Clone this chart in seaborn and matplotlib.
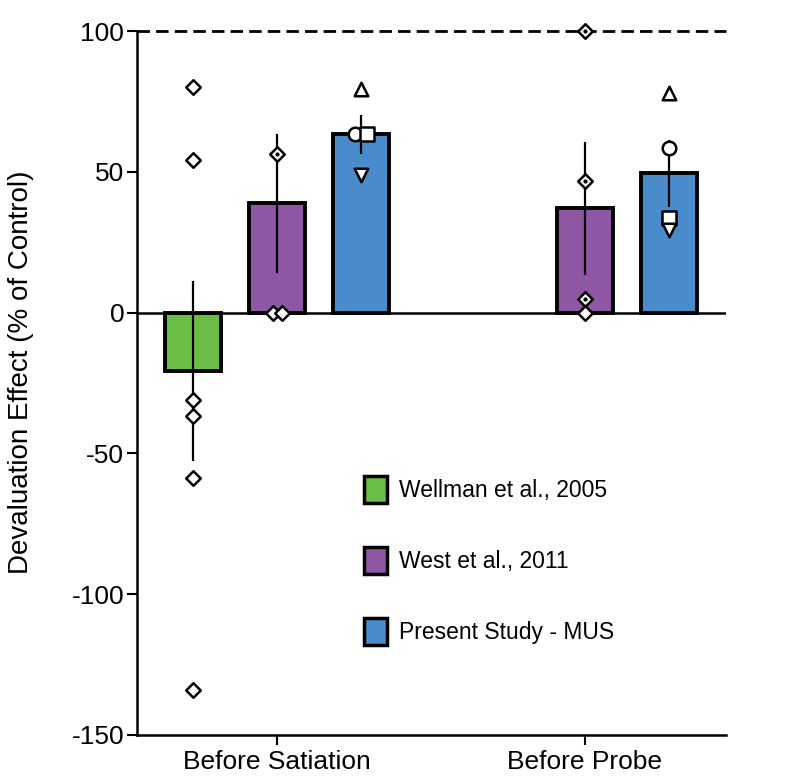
import pandas as pd
import matplotlib.pyplot as plt
import matplotlib.patches as mpatches
import numpy as np
import seaborn as sns

# bar means and SEM
conditions = ['Before Satiation', 'Before Probe']
studies = ['Wellman et al., 2005', 'West et al., 2011', 'Present Study - MUS']
colors = ['#6abd45', '#8e56a3', '#4a8ccb']

bar_cond = ['Before Satiation', 'Before Satiation', 'Before Satiation', 'Before Probe', 'Before Probe']
bar_study = ['Wellman et al., 2005', 'West et al., 2011', 'Present Study - MUS',
             'West et al., 2011', 'Present Study - MUS']
bar_mean = [-20.6, 38.8, 63.3, 37.0, 49.5]
bar_sem = [32.0, 24.7, 6.9, 23.5, 11.8]

# individual points
pt_cond = ['Before Satiation'] * 6 + ['Before Satiation'] * 3 + ['Before Probe'] * 4 \
    + ['Before Satiation'] * 4 + ['Before Probe'] * 4
pt_study = ['Wellman et al., 2005'] * 6 + ['West et al., 2011'] * 7 + ['Present Study - MUS'] * 8
pt_val = [80.0, 54.4, -31.0, -36.6, -58.7, -134.0,
          56.2, 0.0, 0.0,
          100.0, 46.6, 5.0, 0.0,
          79.5, 63.5, 63.5, 49.0,
          78.0, 58.4, 33.8, 29.5]
pt_marker = ['D'] * 13 + ['^', 'o', 's', 'v'] * 2
pt_dot = [False] * 6 + [True, False, False] + [True, True, True, False] + [False] * 8
pt_jitter = [0] * 7 + [-0.015, 0.015] + [0] * 5 + [-0.02, 0.02, 0] + [0] * 4

bars = pd.DataFrame({'Condition': bar_cond, 'Study': bar_study, 'Effect': bar_mean, 'SEM': bar_sem})

sns.set_style('ticks')
plt.rcParams['font.family'] = ['Liberation Sans', 'DejaVu Sans']
plt.rcParams['axes.unicode_minus'] = False
plt.rcParams['text.color'] = 'black'
plt.rcParams['axes.labelcolor'] = 'black'
plt.rcParams['xtick.color'] = 'black'
plt.rcParams['ytick.color'] = 'black'

fig = plt.figure(figsize=(7.91, 7.78), dpi=100)
ax = fig.add_axes([0.173, 0.0553, 0.745, 0.9047])

sns.barplot(data=bars, x='Condition', y='Effect', hue='Study', order=conditions,
            hue_order=studies, palette=colors, saturation=1, width=0.82, gap=0.33,
            errorbar=None, edgecolor='black', linewidth=2.8, ax=ax, legend=False, zorder=2)

# bar centres, taken from the drawn patches
centres = {}
for study, cont in zip(studies, ax.containers):
    for p in cont.patches:
        cx = p.get_x() + p.get_width() / 2
        cond = conditions[int(round(cx))]
        centres[(cond, study)] = cx

for _, r in bars.iterrows():
    cx = centres[(r['Condition'], r['Study'])]
    ax.errorbar(cx, r['Effect'], yerr=r['SEM'], fmt='none', ecolor='black',
                elinewidth=1.6, capsize=0, zorder=3)

for c, s, v, m, d, j in zip(pt_cond, pt_study, pt_val, pt_marker, pt_dot, pt_jitter):
    cx = centres[(c, s)] + j
    size = 55 if m == 'D' else 95
    ax.scatter(cx, v, marker=m, s=size, facecolor='white', edgecolor='black',
               linewidth=1.8, zorder=4, clip_on=False)
    if d:
        ax.scatter(cx, v, marker='o', s=4, color='black', zorder=5, clip_on=False)

ax.axhline(0, color='black', lw=1.8, zorder=2.5)
ax.axhline(100, color='black', lw=2.0, ls=(0, (4.5, 2.2)), zorder=1, clip_on=False)

ax.set_ylim(-150, 100)
ax.set_xlim(-0.456, 1.459)
ax.set_yticks([-150, -100, -50, 0, 50, 100])
ax.set_xlabel('')
ax.set_ylabel('Devaluation Effect (% of Control)', fontsize=20)
ax.yaxis.set_label_coords(-0.175, 0.516)
ax.tick_params(axis='y', labelsize=19, width=1.5, length=7, color='black', pad=2)
ax.tick_params(axis='x', labelsize=19, width=1.5, length=7, color='black', pad=4)
sns.despine(ax=ax, top=True, right=True)
ax.spines['left'].set_linewidth(1.8)
ax.spines['bottom'].set_linewidth(1.8)
ax.spines['left'].set_color('black')
ax.spines['bottom'].set_color('black')

handles = [mpatches.Patch(facecolor=col, edgecolor='black', linewidth=2.5, label=lab)
           for col, lab in zip(colors, studies)]
ax.legend(handles=handles, loc='upper left', bbox_to_anchor=(0.35, 0.397), frameon=False,
          fontsize=16.5, labelspacing=1.95, handlelength=1.0, handleheight=1.4,
          handletextpad=0.55)

plt.savefig('out.png', dpi=100)
